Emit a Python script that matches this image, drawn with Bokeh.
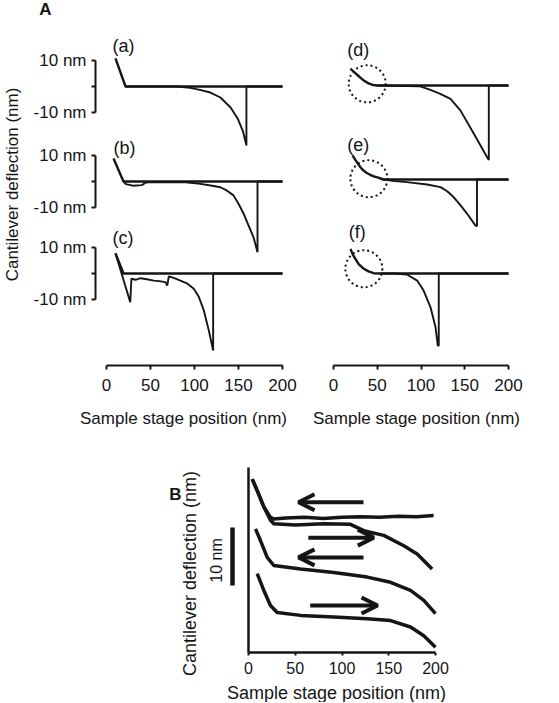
import math
from bokeh.plotting import figure
from bokeh.models import Range1d, LinearAxis, FixedTicker, Arrow, OpenHead
from bokeh.layouts import column, row
from bokeh.embed import file_html
from bokeh.resources import INLINE
from bokeh.core.properties import value

FONT = "Liberation Sans"
INK = "#151515"

# ---------------- data ----------------
x_ticks = [0, 50, 100, 150, 200]
x_title = "Sample stage position (nm)"
y_title = "Cantilever deflection (nm)"
scale_ticks = [-10, 0, 10]
scale_texts = ["-10 nm", "10 nm"]
scale_text_y = [-10, 10]

# Panel A, left column (deflection in nm vs stage position in nm)
a_app_x = [10.2, 21.6, 200]
a_app_y = [10.7, 0.0, 0.0]
a_ret_x = [200, 159, 159, 155, 149, 141, 129.5, 118, 105, 95, 80, 21.6]
a_ret_y = [0.0, 0.0, -22.5, -17.0, -12.2, -8.0, -4.2, -2.3, -1.2, -0.5, 0.0, 0.0]

b_app_x = [8.0, 19.3, 200]
b_app_y = [8.8, 0.0, 0.0]
b_ret_x = [200, 171.6, 171.6, 167, 161, 155.7, 150, 144.3, 137, 129.5, 120, 106.8, 90, 50, 45, 40, 30, 22, 19.3]
b_ret_y = [0.0, 0.0, -27.0, -21.2, -16.5, -12.2, -8.5, -5.3, -3.5, -2.2, -1.6, -0.9, -0.3, -0.2, -0.4, -1.4, -1.6, -1.0, 0.0]

c_app_x = [10.2, 19.3, 200]
c_app_y = [7.7, 0.0, 0.0]
c_ret_x = [10.2, 27.0, 28.3, 33, 38.6, 46, 53.8, 60, 67, 69, 70.8, 77, 84, 92, 99.2, 105, 110.6, 116.3, 121.2, 121.2, 200]
c_ret_y = [7.7, -11.0, -2.0, -2.4, -1.8, -2.2, -2.7, -2.9, -3.3, -4.6, -1.1, -1.8, -2.7, -3.9, -5.8, -9.0, -14.1, -21.8, -29.4, 0.0, 0.0]

# Panel A, right column
d_app_x = [19.4, 23, 27, 31, 35, 40, 45, 50, 200]
d_app_y = [6.4, 5.3, 4.1, 2.9, 1.8, 0.8, 0.2, 0.0, 0.0]
d_ret_x = [200, 177.5, 177.5, 175.6, 160.4, 145, 133.7, 122, 110, 99, 50]
d_ret_y = [0.0, 0.0, -28.4, -27.4, -18.4, -9.5, -5.1, -3.2, -1.6, -0.3, 0.0]

e_app_x = [21.7, 25, 28, 31, 34.3, 38, 42, 46, 50.3, 57, 200]
e_app_y = [9.2, 7.5, 6.0, 4.6, 3.4, 2.5, 1.8, 1.2, 0.8, 0.0, 0.0]
e_ret_x = [200, 164, 164, 162.3, 152.8, 145, 137.5, 130, 122.3, 107, 84, 70, 57]
e_ret_y = [0.0, 0.0, -17.8, -17.6, -13.1, -9.8, -6.8, -4.5, -2.9, -1.9, -1.0, -0.6, 0.0]

f_app_x = [19.4, 22, 25, 29, 34.7, 40, 46, 53.7, 200]
f_app_y = [9.4, 7.3, 5.6, 3.5, 1.8, 0.8, 0.1, 0.0, 0.0]
f_ret_x = [200, 120.3, 120.3, 119.2, 116.6, 110.9, 103, 95.6, 84, 70, 53.7]
f_ret_y = [0.0, 0.0, -27.5, -27.5, -20.5, -12.9, -6.5, -2.7, -0.4, 0.0, 0.0]

tags_left = ["(a)", "(b)", "(c)"]
tags_left_x = [6.8, 8.0, 6.8]
tags_left_y = [15.6, 12.6, 13.4]
tags_right = ["(d)", "(e)", "(f)"]
tags_right_x = [15.6, 15.6, 17.5]
tags_right_y = [13.4, 13.0, 15.8]
circle_x = [38.5, 40.4, 34.7]
circle_y = [0.65, 0.3, 1.8]

# Panel B
B1_x = [4.0, 9.3, 16.4, 23.5, 27.1, 40, 60, 80, 100, 120, 140, 160, 180, 198]
B1_y = [29.9, 27.9, 25.1, 23.3, 23.0, 23.2, 23.3, 23.1, 23.3, 23.4, 23.3, 23.5, 23.4, 23.6]
B2_x = [4.0, 9.3, 16.4, 23.5, 27.1, 50, 80, 109, 123.3, 144.7, 166.1, 180.4, 196.4]
B2_y = [29.9, 27.9, 25.1, 22.8, 22.2, 22.0, 22.2, 22.1, 21.0, 20.2, 18.4, 17.0, 14.4]
B3_x = [7.5, 12.8, 20.0, 27.1, 55.6, 91.2, 127.0, 151.9, 173.3, 187.5, 200.0]
B3_y = [21.3, 19.3, 16.4, 15.0, 14.4, 13.8, 13.0, 12.1, 10.7, 9.0, 6.7]
B4_x = [9.3, 16.4, 23.5, 30.7, 55.6, 91.2, 127.0, 151.9, 173.3, 187.5, 200.0]
B4_y = [13.6, 10.7, 8.1, 6.9, 6.4, 6.1, 5.8, 5.5, 4.4, 2.9, 0.9]
arrow_x0 = [123, 64, 123, 66]
arrow_x1 = [53.5, 134, 53.5, 138]
arrow_y = [25.9, 19.8, 16.4, 8.1]
B_scale = (11.55, 21.55)
B_yaxis_top = 31.9

# ---------------- layout constants (page pixels) ----------------
TOP_H = 440                      # height of the panel-A row
AXIS_PX = 365                    # x axis line of panel A
NM_PX_Y = 2.62                   # px per nm (panel A deflection)


def y_range_for(base_px):
    return Range1d(-(TOP_H - base_px) / NM_PX_Y, base_px / NM_PX_Y)


def make_fig(width, height, xr, yr):
    p = figure(width=width, height=height, x_range=xr, y_range=yr,
               output_backend="svg", toolbar_location=None,
               x_axis_location=None, y_axis_location=None,
               min_border_left=0, min_border_right=0, min_border_top=0, min_border_bottom=0)
    p.outline_line_color = None
    p.grid.visible = False
    p.background_fill_color = "white"
    p.border_fill_color = "white"
    return p


def x_axis(p, loc, tick_size="17px", tick_out=4, lab_sd=9, lw=2):
    ax = LinearAxis(fixed_location=loc, bounds=(0, 200), ticker=FixedTicker(ticks=x_ticks))
    ax.axis_line_width = lw
    ax.axis_line_color = INK
    ax.major_tick_line_width = 2
    ax.major_tick_line_color = INK
    ax.major_tick_out = tick_out
    ax.major_tick_in = 0
    ax.minor_tick_line_color = None
    ax.major_label_text_font = FONT
    ax.major_label_text_font_size = tick_size
    ax.major_label_text_color = INK
    ax.major_label_standoff = lab_sd
    p.add_layout(ax, "below")
    return ax


def bar_axis(p, loc, bounds, rname="default", ticks=(), lw=2.0):
    # a bare scale bar: no major ticks (so no tick labels), optional unlabeled minor ticks
    ax = LinearAxis(y_range_name=rname, fixed_location=loc, bounds=bounds,
                    ticker=FixedTicker(ticks=[], minor_ticks=list(ticks)))
    ax.axis_line_width = lw
    ax.axis_line_color = INK
    ax.major_tick_line_color = None
    ax.minor_tick_line_width = 2
    ax.minor_tick_line_color = INK if ticks else None
    ax.minor_tick_out = 4
    ax.minor_tick_in = 0
    p.add_layout(ax, "left")
    return ax


def txt(p, x, y, s, size, rname="default", bold=False, angle=0.0, align="center"):
    p.text(x=[x], y=[y], text=[s], angle=angle, text_font=value(FONT),
           text_font_size=value(size), text_font_style="bold" if bold else "normal",
           text_color=INK, text_align=align, text_baseline="middle", y_range_name=rname)


def draw_trace(p, rname, ax_, ay_, rx_, ry_):
    p.line(rx_, ry_, line_width=1.9, line_color=INK, y_range_name=rname)
    p.line(ax_, ay_, line_width=2.4, line_color=INK, y_range_name=rname)


# ---------------- Panel A left ----------------
L_W, L_ZERO, L_PX = 305, 106, 0.88
lx0 = -L_ZERO / L_PX
left_bases = [86, 181, 273]          # baseline rows of (a), (b), (c)
L = make_fig(L_W, TOP_H, Range1d(lx0, lx0 + L_W / L_PX), y_range_for(left_bases[2]))
L.extra_y_ranges["a"] = y_range_for(left_bases[0])
L.extra_y_ranges["b"] = y_range_for(left_bases[1])
names_L = ["a", "b", "default"]

draw_trace(L, "a", a_app_x, a_app_y, a_ret_x, a_ret_y)
draw_trace(L, "b", b_app_x, b_app_y, b_ret_x, b_ret_y)
draw_trace(L, "default", c_app_x, c_app_y, c_ret_x, c_ret_y)

for n, t, tx, ty in zip(names_L, tags_left, tags_left_x, tags_left_y):
    txt(L, tx, ty, t, "18px", rname=n, align="left")

for n in names_L:
    bar_axis(L, (95 - L_ZERO) / L_PX, (-10, 10), rname=n, ticks=scale_ticks)
    for s, sy in zip(scale_texts, scale_text_y):
        txt(L, (86 - L_ZERO) / L_PX, sy, s, "17px", rname=n, align="right")

x_axis(L, (left_bases[2] - AXIS_PX) / NM_PX_Y)
txt(L, (183 - L_ZERO) / L_PX, (left_bases[2] - 418) / NM_PX_Y, x_title, "17px")
txt(L, (45 - L_ZERO) / L_PX, (left_bases[0] - 9) / NM_PX_Y, "A", "17px", rname="a", bold=True)
txt(L, (12 - L_ZERO) / L_PX, (left_bases[1] - 184) / NM_PX_Y, y_title, "17px", rname="b",
    angle=math.pi / 2)

# ---------------- Panel A right ----------------
R_W, R_X0, R_ZERO, R_PX = 250, 305, 333, 0.875
rx0 = -(R_ZERO - R_X0) / R_PX
right_bases = [85, 179, 273]         # baseline rows of (d), (e), (f)
R = make_fig(R_W, TOP_H, Range1d(rx0, rx0 + R_W / R_PX), y_range_for(right_bases[2]))
R.extra_y_ranges["d"] = y_range_for(right_bases[0])
R.extra_y_ranges["e"] = y_range_for(right_bases[1])
names_R = ["d", "e", "default"]

draw_trace(R, "d", d_app_x, d_app_y, d_ret_x, d_ret_y)
draw_trace(R, "e", e_app_x, e_app_y, e_ret_x, e_ret_y)
draw_trace(R, "default", f_app_x, f_app_y, f_ret_x, f_ret_y)

for n, t, tx, ty, cx, cy in zip(names_R, tags_right, tags_right_x, tags_right_y, circle_x, circle_y):
    txt(R, tx, ty, t, "18px", rname=n, align="left")
    R.scatter(x=[cx], y=[cy], marker="circle", size=37, fill_color=None, line_color=INK,
              line_width=2, line_dash="2 3", y_range_name=n)

x_axis(R, (right_bases[2] - AXIS_PX) / NM_PX_Y)
txt(R, (416 - R_ZERO) / R_PX, (right_bases[2] - 418) / NM_PX_Y, x_title, "17px")

# ---------------- Panel B ----------------
B_W, B_Y0, B_Y1 = 555, 440, 702
B_ZERO_X, B_ZERO_Y = 248, 652
B_PX, B_PY = 0.935, 5.8
bx0 = -B_ZERO_X / B_PX
B = make_fig(B_W, B_Y1 - B_Y0, Range1d(bx0, bx0 + B_W / B_PX),
             Range1d(-(B_Y1 - B_ZERO_Y) / B_PY, (B_ZERO_Y - B_Y0) / B_PY))

for xs, ys in [(B1_x, B1_y), (B2_x, B2_y), (B3_x, B3_y), (B4_x, B4_y)]:
    B.line(xs, ys, line_width=3.5, line_color=INK, line_join="round")

for x0, x1, yy in zip(arrow_x0, arrow_x1, arrow_y):
    B.add_layout(Arrow(end=OpenHead(size=16, line_width=4, line_color=INK),
                       x_start=x0, y_start=yy, x_end=x1, y_end=yy,
                       line_width=4, line_color=INK))

x_axis(B, 0, tick_size="16px", tick_out=3, lab_sd=6, lw=2.5)
bar_axis(B, 0, (0, B_yaxis_top), lw=2.5)
bar_axis(B, (232 - B_ZERO_X) / B_PX, B_scale, lw=4.5)

txt(B, (216 - B_ZERO_X) / B_PX, (B_ZERO_Y - 560) / B_PY, "10 nm", "16px", angle=math.pi / 2)
txt(B, (175 - B_ZERO_X) / B_PX, (B_ZERO_Y - 494) / B_PY, "B", "17px", bold=True)
txt(B, (189 - B_ZERO_X) / B_PX, (B_ZERO_Y - 573) / B_PY, y_title, "18px", angle=math.pi / 2)
txt(B, (336 - B_ZERO_X) / B_PX, (B_ZERO_Y - 692) / B_PY, x_title, "18px")

layout = column(row(L, R), B)
open("out.html", "w").write(file_html(layout, INLINE))
